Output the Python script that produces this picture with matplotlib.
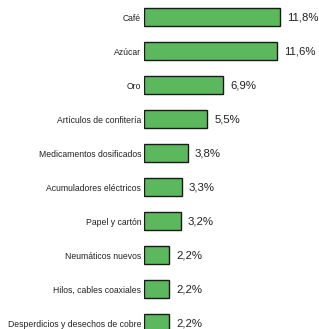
import matplotlib
matplotlib.use("Agg")
import matplotlib.pyplot as plt

categories = ["Café", "Azúcar", "Oro", "Artículos de confitería",
              "Medicamentos dosificados", "Acumuladores eléctricos",
              "Papel y cartón", "Neumáticos nuevos", "Hilos, cables coaxiales",
              "Desperdicios y desechos de cobre"]
values = [11.8, 11.6, 6.9, 5.5, 3.8, 3.3, 3.2, 2.2, 2.2, 2.2]
value_labels = ["11,8%", "11,6%", "6,9%", "5,5%", "3,8%", "3,3%", "3,2%",
                "2,2%", "2,2%", "2,2%"]

plt.rcParams['font.family'] = ['Liberation Sans', 'DejaVu Sans']

W, H = 319, 329
fig = plt.figure(figsize=(W / 100, H / 100), dpi=100)
left_px = 144
ax = fig.add_axes([left_px / W, 0, 1 - left_px / W, 1])

pos = list(range(len(categories)))
ax.barh(pos, values, height=0.51, color="#5cb85c", edgecolor="#1a1a1a",
        linewidth=1.0)
ax.set_xlim(0, (W - left_px) / 11.5)
ax.set_ylim((H - 17) / 34, -0.5)
ax.set_yticks(pos)
ax.set_yticklabels(categories, fontsize=6.2, color="#222222")
ax.tick_params(axis='y', length=0, pad=2)
ax.set_xticks([])
for s in ax.spines.values():
    s.set_visible(False)

for p, v, lab in zip(pos, values, value_labels):
    ax.annotate(lab, (v, p), xytext=(5, 0), textcoords="offset points",
                va="center", ha="left", fontsize=8.2, color="#222222")

fig.savefig("out.png", dpi=100)
